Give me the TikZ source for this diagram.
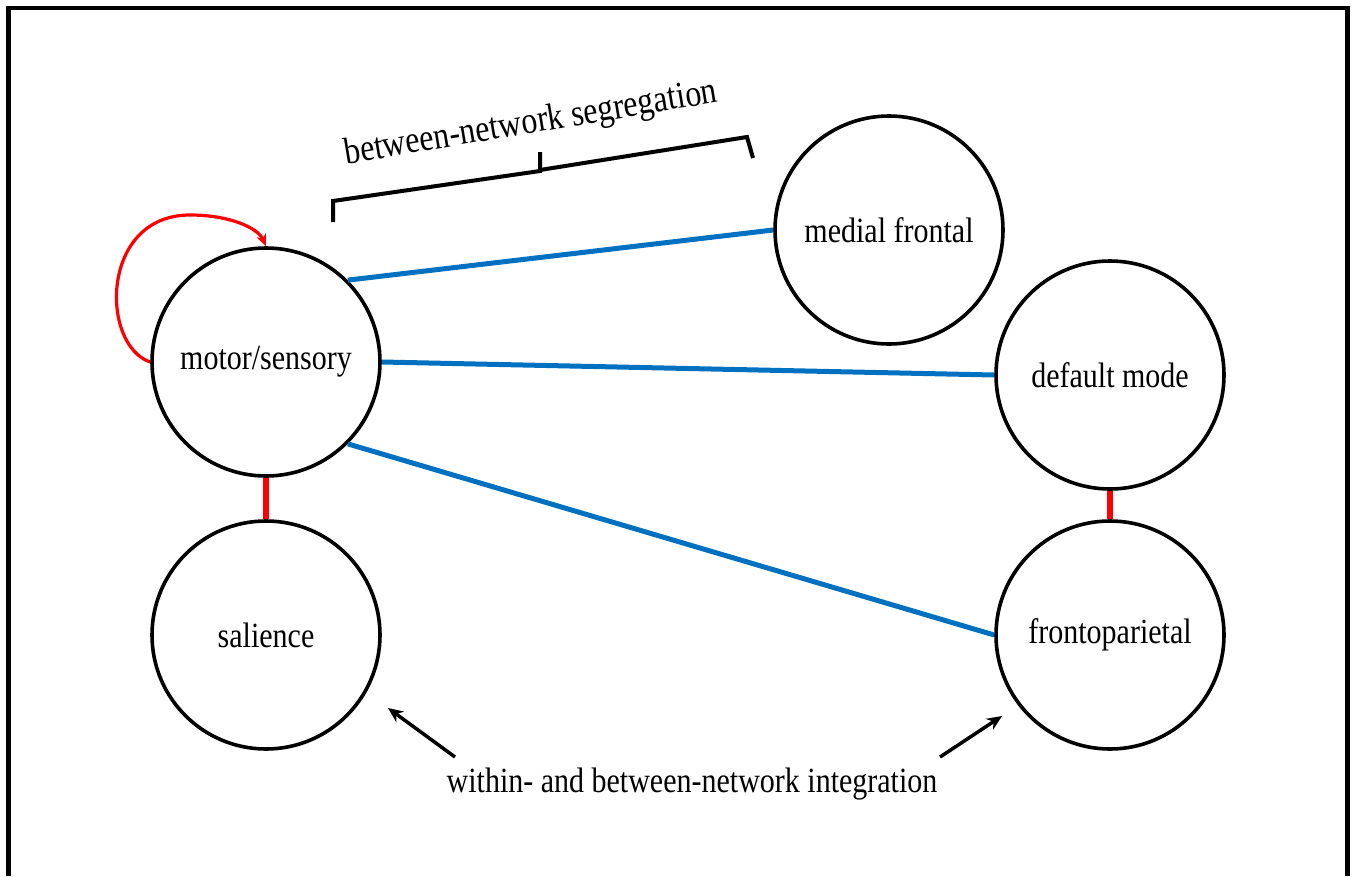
\documentclass[tikz,border=0pt]{standalone}
\usepackage{fontspec}
\setmainfont{Liberation Serif}
\usetikzlibrary{arrows.meta}
\definecolor{linkblue}{RGB}{0,112,192}
\newcommand{\tallword}[1]{\scalebox{1}[1.18]{#1}}
\begin{document}
\begin{tikzpicture}[x=1pt,y=-1pt,
  net/.style={circle,draw=black,line width=3.6pt,minimum size=228pt,inner sep=0pt,font=\fontsize{30}{36}\selectfont},
  seg/.style={draw=linkblue,line width=5pt},
  intra/.style={draw=red,line width=6pt},
  lbl/.style={font=\fontsize{30}{36}\selectfont,inner sep=0pt},
  pointer/.style={draw=black,line width=3.5pt,-{Stealth[length=15pt,width=13pt]}}]
\useasboundingbox (0,0) rectangle (1355,876);
% frame (open at bottom)
\draw[line width=4.5pt] (8.5,876) -- (8.5,8) -- (1347.5,8) -- (1347.5,876);
% networks
\node[net] (ms) at (266,362) {\tallword{motor/sensory}};
\node[net] (mf) at (889,230) {\tallword{medial frontal}};
\node[net] (dm) at (1110,375) {\tallword{default mode}};
\node[net] (fp) at (1110,635) {\tallword{frontoparietal}};
\node[net] (sa) at (266,635) {\tallword{salience}};
% between-network links
\draw[seg] (ms.45) -- (mf.west);
\draw[seg] (ms.east) -- (dm.west);
\draw[seg] (ms.-45) -- (fp.west);
% within links
\draw[intra] (ms.south) -- (sa.north);
\draw[intra] (dm.south) -- (fp.north);
% self loop
\draw[red,line width=3.2pt,-{Stealth[length=12pt,width=10pt]}] (ms.west) .. controls (100,345) and (100,215) .. (190,215) .. controls (230,215) and (258,228) .. (ms.north);
% brace
\coordinate (bl) at (333,222);
\coordinate (br) at (753,158);
\draw[line width=4pt,line join=miter] (bl) -- (333,201) -- (540,171) -- (540,152) -- (540,170) -- (747,137) -- (br);
\node[lbl,rotate=9.5,font=\fontsize{32}{38}\selectfont] (segtxt) at (531,124) {\tallword{between-network segregation}};
% integration label and arrows
\node[lbl] (integ) at (692,784) {\tallword{within- and between-network integration}};
\coordinate (la) at (455,757);
\coordinate (ra) at (940,757);
\draw[pointer] (la) -- (388,708);
\draw[pointer] (ra) -- (1002,716);
\end{tikzpicture}
\end{document}
